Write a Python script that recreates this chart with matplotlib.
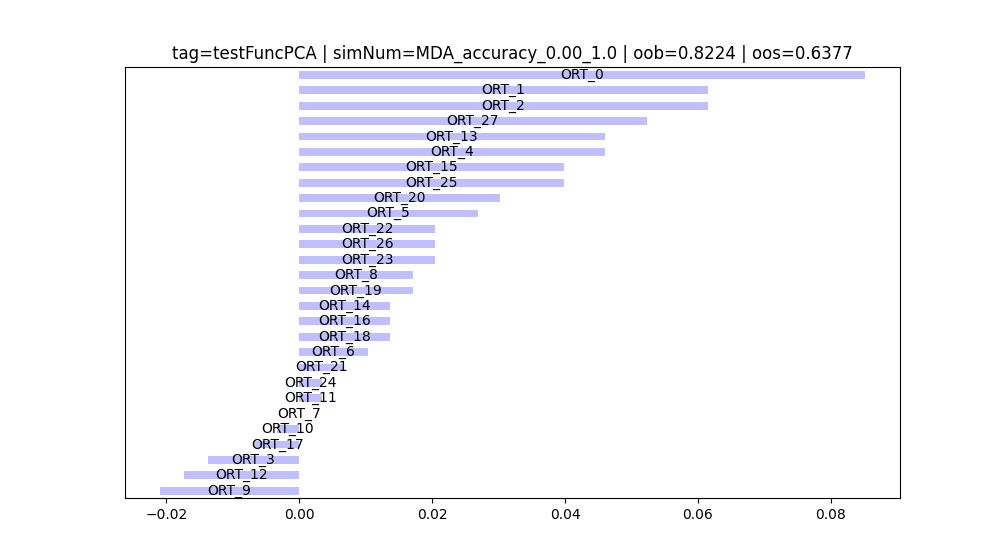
import numpy as np
import pandas as pd
import matplotlib
matplotlib.use('Agg')
import matplotlib.pyplot as plt

# feature importance (mean), top to bottom
features = ['ORT_0', 'ORT_1', 'ORT_2', 'ORT_27', 'ORT_13', 'ORT_4', 'ORT_15',
            'ORT_25', 'ORT_20', 'ORT_5', 'ORT_22', 'ORT_26', 'ORT_23', 'ORT_8',
            'ORT_19', 'ORT_14', 'ORT_16', 'ORT_18', 'ORT_6', 'ORT_21', 'ORT_24',
            'ORT_11', 'ORT_7', 'ORT_10', 'ORT_17', 'ORT_3', 'ORT_12', 'ORT_9']
mean_imp = [0.0851, 0.0615, 0.0615, 0.0523, 0.0460, 0.0460, 0.0398,
            0.0398, 0.0302, 0.0269, 0.0205, 0.0205, 0.0205, 0.0171,
            0.0171, 0.0137, 0.0137, 0.0137, 0.0103, 0.0068, 0.0034,
            0.0034, 0.0000, -0.0034, -0.0066, -0.0137, -0.0173, -0.0209]

title = 'tag=testFuncPCA | simNum=MDA_accuracy_0.00_1.0 | oob=0.8224 | oos=0.6377'

imp = pd.DataFrame({'mean': mean_imp}, index=features)
imp = imp.sort_values('mean', ascending=True, kind='stable')
imp = imp.iloc[::-1].sort_values('mean', ascending=True, kind='stable')

plt.figure(figsize=(10, imp.shape[0] / 5.))
ax = imp['mean'].plot(kind='barh', color='b', alpha=.25)
ax.get_yaxis().set_visible(False)
for i, j in zip(ax.patches, imp.index):
    ax.text(i.get_width() / 2, i.get_y() + i.get_height() / 2, j,
            ha='center', va='center', color='black')
plt.title(title)
plt.savefig('out.png', dpi=100)
plt.close()
